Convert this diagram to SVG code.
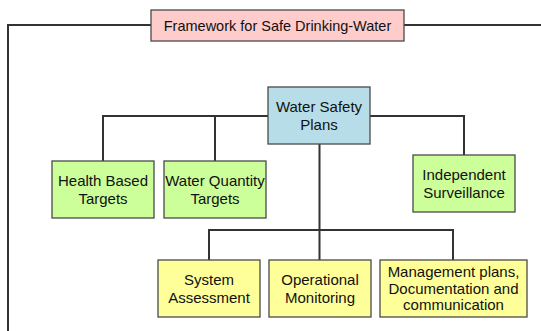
<svg xmlns="http://www.w3.org/2000/svg" width="541" height="331" viewBox="0 0 541 331">
<style>
.box{stroke:#4a4a4a;stroke-width:1.3}
.t{font-family:"Liberation Sans",Arial,sans-serif;font-size:15px;fill:#111;text-anchor:middle}
.tt{font-size:14.5px}
.c{fill:none;stroke:#333;stroke-width:2}
</style>
<rect width="541" height="331" fill="#fff"/>
<g id="connectors">
<path class="c" d="M8,331 V25 H151 M404,25 H541"/>
<path class="c" d="M103,161 V116 H268 M215,116 V161"/>
<path class="c" d="M370,116 H464 V155"/>
<path class="c" d="M319.5,144 V260 M209,260 V230 H453 V260"/>
</g>
<g id="title">
<rect class="box" x="151" y="10" width="253" height="31" fill="#ffcccc"/>
<text class="t tt" x="277.5" y="31">Framework for Safe Drinking-Water</text>
</g>
<g id="wsp">
<rect class="box" x="268" y="87" width="102" height="57" fill="#b7dde8"/>
<text class="t" x="319" y="112">Water Safety</text>
<text class="t" x="319" y="130">Plans</text>
</g>
<g id="health">
<rect class="box" x="52" y="161" width="102" height="57" fill="#ccff99"/>
<text class="t" x="103" y="186">Health Based</text>
<text class="t" x="103" y="204">Targets</text>
</g>
<g id="quantity">
<rect class="box" x="164" y="161" width="102" height="57" fill="#ccff99"/>
<text class="t" x="215" y="186">Water Quantity</text>
<text class="t" x="215" y="204">Targets</text>
</g>
<g id="surveillance">
<rect class="box" x="413" y="155" width="102" height="57" fill="#ccff99"/>
<text class="t" x="464" y="180">Independent</text>
<text class="t" x="464" y="198">Surveillance</text>
</g>
<g id="system">
<rect class="box" x="158" y="260" width="102" height="57" fill="#ffff99"/>
<text class="t" x="209" y="285">System</text>
<text class="t" x="209" y="303">Assessment</text>
</g>
<g id="operational">
<rect class="box" x="269" y="260" width="102" height="57" fill="#ffff99"/>
<text class="t" x="320" y="285">Operational</text>
<text class="t" x="320" y="303">Monitoring</text>
</g>
<g id="management">
<rect class="box" x="380" y="260" width="147" height="57" fill="#ffff99"/>
<text class="t" x="453.5" y="277">Management plans,</text>
<text class="t" x="453.5" y="293.5">Documentation and</text>
<text class="t" x="453.5" y="310">communication</text>
</g>
</svg>
